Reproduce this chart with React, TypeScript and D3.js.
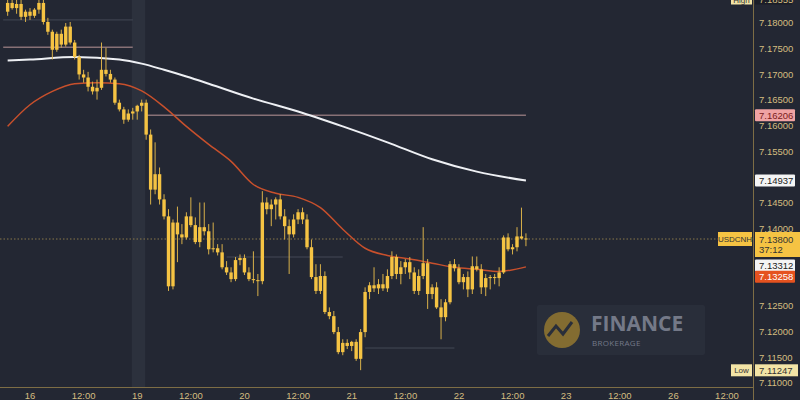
import React from "react";
import * as d3 from "d3";

// hours since 16 00:00 (trading hours, weekend skipped)
const hours = d3.range(-5, 112);
const opens = [7.1822,7.1839,7.1829,7.1837,7.1812,7.1822,7.1814,7.1826,7.1839,7.1802,7.1783,7.1748,7.1779,7.1758,7.1793,7.1762,7.1734,7.1700,7.1694,7.1676,7.1667,7.1674,7.1709,7.1701,7.1690,7.1645,7.1632,7.1612,7.1624,7.1628,7.1639,7.1645,7.1583,7.1476,7.1506,7.1457,7.1424,7.1288,7.1412,7.1389,7.1383,7.1424,7.1407,7.1374,7.1403,7.1395,7.1360,7.1362,7.1354,7.1325,7.1315,7.1302,7.1339,7.1343,7.1315,7.1302,7.1300,7.1298,7.1451,7.1438,7.1447,7.1457,7.1424,7.1405,7.1389,7.1418,7.1432,7.1418,7.1364,7.1306,7.1279,7.1308,7.1238,7.1230,7.1199,7.1160,7.1178,7.1172,7.1180,7.1147,7.1199,7.1277,7.1290,7.1284,7.1292,7.1284,7.1308,7.1345,7.1312,7.1325,7.1335,7.1315,7.1279,7.1308,7.1333,7.1273,7.1286,7.1247,7.1228,7.1257,7.1331,7.1323,7.1296,7.1306,7.1282,7.1327,7.1321,7.1286,7.1304,7.1306,7.1304,7.1315,7.1383,7.1360,7.1364,7.1385,7.1381];
const highs = [7.1849,7.1853,7.1845,7.1845,7.1826,7.1829,7.1829,7.1845,7.1845,7.1810,7.1787,7.1783,7.1787,7.1800,7.1802,7.1767,7.1738,7.1709,7.1705,7.1686,7.1690,7.1762,7.1752,7.1709,7.1694,7.1651,7.1637,7.1632,7.1635,7.1641,7.1651,7.1651,7.1593,7.1568,7.1519,7.1467,7.1438,7.1418,7.1443,7.1409,7.1432,7.1461,7.1422,7.1451,7.1451,7.1409,7.1412,7.1370,7.1370,7.1337,7.1325,7.1345,7.1350,7.1350,7.1325,7.1356,7.1312,7.1473,7.1461,7.1457,7.1461,7.1467,7.1438,7.1418,7.1428,7.1438,7.1441,7.1428,7.1379,7.1331,7.1331,7.1317,7.1247,7.1240,7.1209,7.1185,7.1185,7.1182,7.1185,7.1205,7.1286,7.1296,7.1325,7.1302,7.1312,7.1321,7.1356,7.1350,7.1337,7.1341,7.1345,7.1325,7.1321,7.1403,7.1341,7.1292,7.1296,7.1263,7.1263,7.1337,7.1341,7.1331,7.1312,7.1317,7.1346,7.1346,7.1331,7.1312,7.1310,7.1312,7.1325,7.1387,7.1391,7.1370,7.1403,7.1441,7.1391];
const lows = [7.1814,7.1826,7.1818,7.1806,7.1802,7.1806,7.1810,7.1818,7.1797,7.1777,7.1729,7.1744,7.1752,7.1754,7.1758,7.1729,7.1690,7.1684,7.1667,7.1661,7.1651,7.1670,7.1696,7.1684,7.1641,7.1628,7.1604,7.1608,7.1612,7.1612,7.1628,7.1573,7.1447,7.1467,7.1447,7.1418,7.1279,7.1282,7.1335,7.1370,7.1379,7.1403,7.1370,7.1364,7.1387,7.1350,7.1354,7.1348,7.1321,7.1310,7.1296,7.1298,7.1329,7.1310,7.1298,7.1294,7.1269,7.1292,7.1428,7.1405,7.1418,7.1418,7.1379,7.1312,7.1383,7.1409,7.1409,7.1360,7.1302,7.1273,7.1273,7.1234,7.1224,7.1195,7.1156,7.1154,7.1166,7.1162,7.1143,7.1125,7.1189,7.1263,7.1277,7.1273,7.1279,7.1277,7.1302,7.1302,7.1292,7.1312,7.1302,7.1273,7.1271,7.1302,7.1244,7.1263,7.1244,7.1185,7.1220,7.1253,7.1317,7.1292,7.1282,7.1267,7.1273,7.1317,7.1273,7.1269,7.1282,7.1292,7.1288,7.1312,7.1356,7.1350,7.1356,7.1379,7.1366];
const closes = [7.1839,7.1829,7.1837,7.1812,7.1822,7.1814,7.1826,7.1839,7.1802,7.1783,7.1748,7.1779,7.1758,7.1793,7.1762,7.1734,7.1700,7.1694,7.1676,7.1667,7.1674,7.1709,7.1701,7.1690,7.1645,7.1632,7.1612,7.1624,7.1628,7.1639,7.1645,7.1583,7.1476,7.1506,7.1457,7.1424,7.1288,7.1412,7.1389,7.1383,7.1424,7.1407,7.1374,7.1403,7.1395,7.1360,7.1362,7.1354,7.1325,7.1315,7.1302,7.1339,7.1343,7.1315,7.1302,7.1300,7.1298,7.1451,7.1438,7.1447,7.1457,7.1424,7.1405,7.1389,7.1418,7.1432,7.1418,7.1364,7.1306,7.1279,7.1308,7.1238,7.1230,7.1199,7.1160,7.1178,7.1172,7.1180,7.1147,7.1199,7.1277,7.1290,7.1284,7.1292,7.1284,7.1308,7.1345,7.1312,7.1325,7.1335,7.1315,7.1279,7.1308,7.1333,7.1273,7.1286,7.1247,7.1228,7.1257,7.1331,7.1323,7.1296,7.1306,7.1282,7.1327,7.1321,7.1286,7.1304,7.1306,7.1304,7.1315,7.1383,7.1360,7.1364,7.1385,7.1381,7.1380];

// moving averages read at sample hours
const maHours = [-5,0,10,20,25,30,35,40,50,60,70,80,90,100,111];
const ma200 = [7.1727,7.1729,7.1734,7.1729,7.1721,7.1709,7.1696,7.1682,7.1653,7.1628,7.1599,7.1568,7.1535,7.1511,7.14937];
const ma50Hours = [-5,0,5,10,15,20,25,30,35,40,45,50,55,60,65,70,75,80,85,90,95,100,105,111];
const ma50 = [7.1599,7.1641,7.1667,7.1682,7.1684,7.1682,7.1668,7.1637,7.1599,7.1564,7.1531,7.1486,7.1469,7.1461,7.1441,7.1399,7.1362,7.1348,7.1341,7.1333,7.1325,7.1321,7.1317,7.13258];

const yTicks = [7.18,7.175,7.17,7.165,7.16,7.155,7.145,7.14,7.125,7.12,7.115,7.11];
const xTickHours = [0,12,24,36,48,60,72,84,96,108,120,132,144,156];
const xTickLabels = ["16","12:00","19","12:00","20","12:00","21","12:00","22","12:00","23","12:00","26","12:00"];

const levelPrices = [7.1806, 7.1753, 7.16206, 7.1345, 7.1168];
const levelStart = [-6, -6, 26, 44, 75];
const levelEnd = [23, 23, 111, 70, 95];

const lastPrice = 7.138;
const highPrice = 7.18555;
const lowPrice = 7.11247;
const otherPrice = 7.13312;

export default function App() {
  const W = 800, H = 400;
  const plotR = 753, plotB = 387;
  const x = d3.scaleLinear().domain([0, 156]).range([30, 727]);
  const y = d3.scaleLinear().domain([7.11, 7.18]).range([383, 23]);
  const bg = "#232733";
  const candle = "#f5c343";
  const axisText = "#d4bd80";
  const line = d3.line<[number, number]>().x(d => x(d[0])).y(d => y(d[1])).curve(d3.curveMonotoneX);
  const maW = line(maHours.map((h, i) => [h, ma200[i]]));
  const maO = line(ma50Hours.map((h, i) => [h, ma50[i]]));
  const bw = 3.4;
  const font = "'Liberation Sans', Arial, sans-serif";
  const fs = 9.5;
  const box = (yc: number, fill: string, txt: string, color: string, key: string) => (
    <g key={key}>
      <rect x={755} y={yc - 6} width={40} height={12} fill={fill} rx={1} />
      <text x={759} y={yc + 3.3} fontSize={fs} fill={color} fontFamily={font}>{txt}</text>
    </g>
  );
  const hy = Math.max(y(highPrice), -0.5);
  return (
    <svg width={W} height={H} style={{ position: "absolute", left: 0, top: 0 }} fontFamily={font}>
      <defs>
        <clipPath id="plot"><rect x={0} y={0} width={plotR} height={plotB} /></clipPath>
      </defs>
      <rect x={0} y={0} width={W} height={H} fill={bg} />
      <rect x={x(23) - 1} y={0} width={x(26) - x(23)} height={plotB} fill="#2c313d" />
      <g clipPath="url(#plot)">
        {levelPrices.map((p, i) => (
          <line key={"lv" + i} x1={x(levelStart[i])} x2={x(levelEnd[i])} y1={y(p)} y2={y(p)}
            stroke={i === 1 || i === 2 ? "#9a7f82" : "#4a4f5c"} strokeWidth={i === 1 || i === 2 ? 1.5 : 1} opacity={0.85} />
        ))}
        <line x1={0} x2={plotR} y1={y(lastPrice)} y2={y(lastPrice)} stroke="#b59a55" strokeDasharray="1.5,2" opacity={0.7} />
        <path d={maW || ""} fill="none" stroke="#eef0f4" strokeWidth={2} />
        <path d={maO || ""} fill="none" stroke="#c8502c" strokeWidth={1.5} />
        {hours.map((h, i) => {
          const o = opens[i], c = closes[i];
          const top = y(Math.max(o, c)), bot = y(Math.min(o, c));
          return (
            <g key={"c" + i}>
              <line x1={x(h)} x2={x(h)} y1={y(highs[i])} y2={y(lows[i])} stroke="#d8b04a" strokeWidth={1} />
              <rect x={x(h) - bw / 2} y={top} width={bw} height={Math.max(1, bot - top)} fill={candle} />
            </g>
          );
        })}
      </g>
      {/* watermark */}
      <g opacity={0.9}>
        <rect x={537} y={305} width={168} height={50} fill="#2a2f3b" rx={2} />
        <circle cx={562} cy={330} r={18} fill="#a8862f" opacity={0.8} />
        <path d="M548,336 L556,326 L563,334 L572,322" fill="none" stroke="#2a2f3b" strokeWidth={3} />
        <text x={591} y={331} fontSize={21} fontWeight={700} fill="#7d8292" fontFamily="'Open Sans', sans-serif">FINANCE</text>
        <text x={592} y={346} fontSize={8} fill="#7d8292" fontFamily="'Open Sans', sans-serif" letterSpacing={0.3}>BROKERAGE</text>
      </g>
      {/* axes lines */}
      <line x1={plotR + 0.5} x2={plotR + 0.5} y1={0} y2={H} stroke="#7d6d45" />
      <line x1={0} x2={plotR} y1={plotB + 0.5} y2={plotB + 0.5} stroke="#7d6d45" />
      {yTicks.map((t, i) => (
        <text key={"yt" + i} x={759} y={y(t) + 3.3} fontSize={fs} fill={axisText}>{t.toFixed(5)}</text>
      ))}
      {xTickHours.map((h, i) => (
        <text key={"xt" + i} x={x(h)} y={399} fontSize={9.5} fill={axisText} textAnchor="middle">{xTickLabels[i]}</text>
      ))}
      {/* price labels */}
      <rect x={731} y={hy - 6} width={21} height={11} fill="#f3e4a6" />
      <text x={741.5} y={hy + 3} fontSize={8} fill="#333" textAnchor="middle">High</text>
      <rect x={755} y={hy - 6} width={37} height={11} fill="#1a1d27" />
      <text x={759} y={hy + 3} fontSize={fs} fill={axisText}>{highPrice.toFixed(5)}</text>
      {box(y(7.16206), "#f0a3a3", "7.16206", "#7a2020", "b1")}
      {box(y(ma200[ma200.length - 1]), "#f4f4f4", "7.14937", "#222", "b2")}
      <rect x={755} y={y(lastPrice) - 7} width={45} height={25} fill="#f5c343" />
      <text x={759} y={y(lastPrice) + 3.5} fontSize={fs} fill="#333">7.13800</text>
      <text x={759} y={y(lastPrice) + 14} fontSize={fs} fill="#333">37:12</text>
      <rect x={718} y={y(lastPrice) - 7} width={34} height={14} fill="#f5c343" />
      <text x={735} y={y(lastPrice) + 3} fontSize={8} fill="#333" textAnchor="middle">USDCNH</text>
      {box(y(otherPrice) + 1.5, "#f4f4f4", "7.13312", "#222", "b3")}
      {box(y(ma50[ma50.length - 1]) + 10, "#e5521f", "7.13258", "#fff", "b4")}
      <rect x={731} y={y(lowPrice) - 6} width={21} height={12} fill="#f3e4a6" />
      <text x={741.5} y={y(lowPrice) + 3} fontSize={8} fill="#333" textAnchor="middle">Low</text>
      <rect x={755} y={y(lowPrice) - 6} width={43} height={12} fill="#f3e4a6" />
      <text x={759} y={y(lowPrice) + 3.3} fontSize={fs} fill="#333">{lowPrice.toFixed(5)}</text>
    </svg>
  );
}
